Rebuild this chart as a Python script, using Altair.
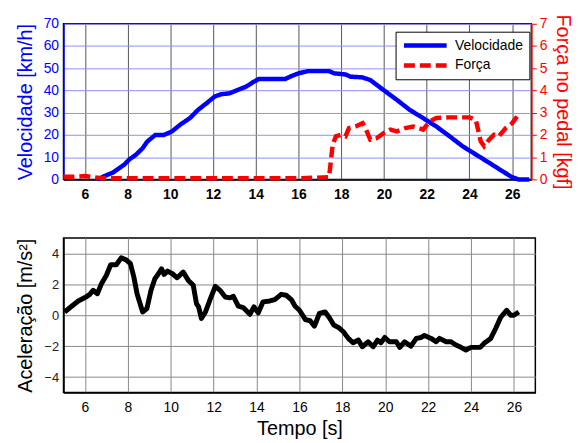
import altair as alt
import pandas as pd

# Velocidade [km/h]
t_vel = [6.6, 6.92, 7.3, 7.6, 7.85, 8.08, 8.38, 8.7, 8.92, 9.3, 9.7, 10.08, 10.46, 10.92, 11.3, 11.7,
         12.08, 12.38, 12.77, 13.15, 13.54, 13.92, 14.15, 15.38, 15.7, 16.0, 16.43, 17.43, 17.67, 18.2,
         18.44, 18.98, 19.36, 19.98, 20.6, 21.2, 21.83, 22.45, 23.07, 23.68, 24.3, 24.92, 25.54, 26.0,
         26.3, 26.8]
vel = [0, 1.5, 3, 5, 6.7, 9, 11, 14, 17, 20, 20, 21.6, 24.6, 27.6, 31.3, 34.3,
       37.3, 38.3, 38.7, 40.2, 41.7, 44, 45.2, 45.2, 46.6, 47.7, 48.7, 48.7, 47.7, 47.2,
       46.2, 45.9, 44.7, 40.2, 35.8, 31.3, 27.6, 23.8, 19.4, 14.9, 11.2, 7.5, 3.7, 1.0,
       0, 0]

# Força no pedal [kgf]
t_for = [5.0, 5.5, 6.0, 6.4, 6.8, 7.5, 8.5, 10.0, 11.5, 13.0, 14.5, 16.0, 17.43, 17.6, 17.75, 17.98,
         18.2, 18.36, 18.67, 19.0, 19.13, 19.36, 19.67, 20.0, 20.3, 20.6, 21.0, 21.37, 21.83, 22.14,
         22.45, 23.07, 24.0, 24.3, 24.53, 24.69, 24.92, 25.15, 25.38, 25.7, 26.0, 26.23]
forca = [0.12, 0.12, 0.15, 0.1, 0.05, 0.05, 0.05, 0.05, 0.05, 0.05, 0.05, 0.05, 0.1, 1.56, 1.94, 2.01,
         1.94, 2.31, 2.38, 2.53, 2.31, 1.79, 1.86, 2.09, 2.24, 2.16, 2.31, 2.38, 2.24, 2.61,
         2.76, 2.79, 2.79, 2.68, 1.71, 1.49, 1.79, 2.01, 1.94, 2.31, 2.53, 2.83]

# Aceleração [m/s²]
t_acc = [5.05, 5.38, 5.69, 6.0, 6.23, 6.38, 6.58, 6.77, 7.0, 7.2, 7.46, 7.69, 7.92, 8.12, 8.28, 8.43,
         8.69, 8.89, 9.08, 9.26, 9.38, 9.57, 9.69, 9.85, 10.08, 10.3, 10.58, 10.82, 11.05, 11.2, 11.3,
         11.43, 11.62, 11.85, 12.08, 12.3, 12.54, 12.77, 12.92, 13.15, 13.38, 13.69, 13.88, 14.08, 14.3,
         14.62, 14.85, 15.15, 15.38, 15.62, 15.8, 16.0, 16.28, 16.5, 16.7, 16.93, 17.2, 17.39, 17.6,
         17.82, 18.05, 18.28, 18.5, 18.75, 18.93, 19.2, 19.44, 19.64, 19.8, 19.98, 20.2, 20.52, 20.68,
         20.9, 21.2, 21.45, 21.68, 21.83, 22.14, 22.37, 22.53, 22.84, 23.07, 23.3, 23.53, 23.76, 24.0,
         24.43, 24.61, 24.92, 25.15, 25.38, 25.66, 25.85, 26.0, 26.23]
acc = [0.21, 0.58, 0.92, 1.14, 1.35, 1.61, 1.39, 2.04, 2.58, 3.26, 3.26, 3.71, 3.58, 3.33, 2.47, 1.39,
       0.21, 0.43, 1.61, 2.36, 2.58, 3.0, 2.64, 2.85, 2.68, 2.42, 2.79, 2.25, 1.93, 0.75, 0.54,
       -0.21, 0.21, 1.07, 1.87, 1.61, 1.18, 1.12, 1.22, 0.58, 0.49, 0.06, 0.54, 0.15, 0.86,
       0.92, 1.01, 1.35, 1.29, 1.01, 0.58, 0.32, -0.28, -0.36, -0.71, 0.11, 0.21, -0.15, -0.64,
       -0.79, -1.07, -1.5, -1.78, -1.61, -2.04, -1.72, -2.04, -1.61, -1.78, -1.44, -1.72, -1.72, -2.08,
       -1.72, -2.0, -1.5, -1.44, -1.31, -1.5, -1.72, -1.5, -1.72, -1.72, -1.93, -2.08, -2.25, -2.08,
       -2.08, -1.82, -1.5, -0.86, -0.15, 0.32, 0.0, 0.0, 0.21]

x_ticks = [6, 8, 10, 12, 14, 16, 18, 20, 22, 24, 26]
vel_ticks = [0, 10, 20, 30, 40, 50, 60, 70]
for_ticks = [0, 1, 2, 3, 4, 5, 6, 7]
acc_ticks = [-4, -2, 0, 2, 4]
series = ["Velocidade", "Força"]

df_v = pd.DataFrame({"t": t_vel, "v": vel, "serie": "Velocidade"})
df_f = pd.DataFrame({"t": t_for, "f": forca, "serie": "Força"})
df_a = pd.DataFrame({"t": t_acc, "a": acc})

FONT = "Liberation Sans"
BLUE = "#0000ff"
RED = "#ff0000"

color_scale = alt.Scale(domain=series, range=[BLUE, RED])
dash_scale = alt.Scale(domain=series, range=[[1, 0], [11, 5]])
leg = alt.Legend(title=None, orient="none", legendX=335, legendY=8, fillColor="white",
                 strokeColor="black", padding=6, symbolType="stroke", symbolSize=1850,
                 symbolStrokeWidth=4.5, labelFontSize=14, labelFont=FONT, labelColor="black",
                 rowPadding=4, labelOffset=6, clipHeight=16)

x_top = alt.X("t:Q", scale=alt.Scale(domain=[5, 26.9], nice=False, zero=False),
              axis=alt.Axis(values=x_ticks, title=None, labelFontWeight="bold", labelFontSize=14,
                            labelColor="black", gridColor="#555555", domainColor="black",
                            ticks=False, labelPadding=8))

vel_line = alt.Chart(df_v).mark_line(strokeWidth=4.5, strokeCap="butt").encode(
    x=x_top,
    y=alt.Y("v:Q", scale=alt.Scale(domain=[0, 70], nice=False),
            axis=alt.Axis(values=vel_ticks, title="Velocidade [km/h]", titleColor=BLUE,
                          labelColor=BLUE, domainColor=BLUE, gridColor="#8f8fff",
                          ticks=False, titleFontSize=20, labelFontSize=14, titlePadding=8,
                          labelPadding=5)),
    color=alt.Color("serie:N", scale=color_scale, legend=leg),
    strokeDash=alt.StrokeDash("serie:N", scale=dash_scale, legend=leg),
)

for_line = alt.Chart(df_f).mark_line(strokeWidth=4.5, strokeCap="butt").encode(
    x=x_top,
    y=alt.Y("f:Q", scale=alt.Scale(domain=[0, 7], nice=False),
            axis=alt.Axis(values=for_ticks, orient="right", title="Força no pedal [kgf]",
                          titleColor=RED, labelColor=RED, domainColor=RED, grid=False,
                          tickColor=RED, tickSize=5, titleFontSize=20, labelFontSize=14,
                          titlePadding=6, labelPadding=3)),
    color=alt.Color("serie:N", scale=color_scale, legend=leg),
    strokeDash=alt.StrokeDash("serie:N", scale=dash_scale, legend=leg),
)

top = alt.layer(vel_line, for_line).resolve_scale(y="independent").properties(width=472, height=157)

bottom = alt.Chart(df_a).mark_line(strokeWidth=5, color="black", strokeJoin="round").encode(
    x=alt.X("t:Q", scale=alt.Scale(domain=[5, 27], nice=False, zero=False),
            axis=alt.Axis(values=x_ticks, title="Tempo [s]", titleFontSize=20, titleFontWeight="normal",
                          labelFontSize=14, gridColor="#888888", ticks=False, labelPadding=8,
                          titlePadding=4, domainColor="black")),
    y=alt.Y("a:Q", scale=alt.Scale(domain=[-5, 5], nice=False),
            axis=alt.Axis(values=acc_ticks, title="Aceleração [m/s²]", titleFontSize=20,
                          labelFontSize=13, gridColor="#888888", ticks=False, titlePadding=8,
                          labelPadding=5, labelColor="#222222", domainColor="black")),
).properties(width=476, height=156)

chart = alt.vconcat(top, bottom, spacing=35).resolve_scale(color="independent", strokeDash="independent").properties(
    padding={"left": 6, "top": 3, "right": 0, "bottom": 0}
).configure(font=FONT).configure_view(stroke="black", strokeWidth=1.5).configure_axis(
    titleFontWeight="normal", labelFont=FONT, titleFont=FONT, gridOpacity=1, gridWidth=1,
    titleColor="black", labelColor="black", domainWidth=1.5
)

chart.save("out.html", embed_options={"renderer": "svg", "actions": False})
